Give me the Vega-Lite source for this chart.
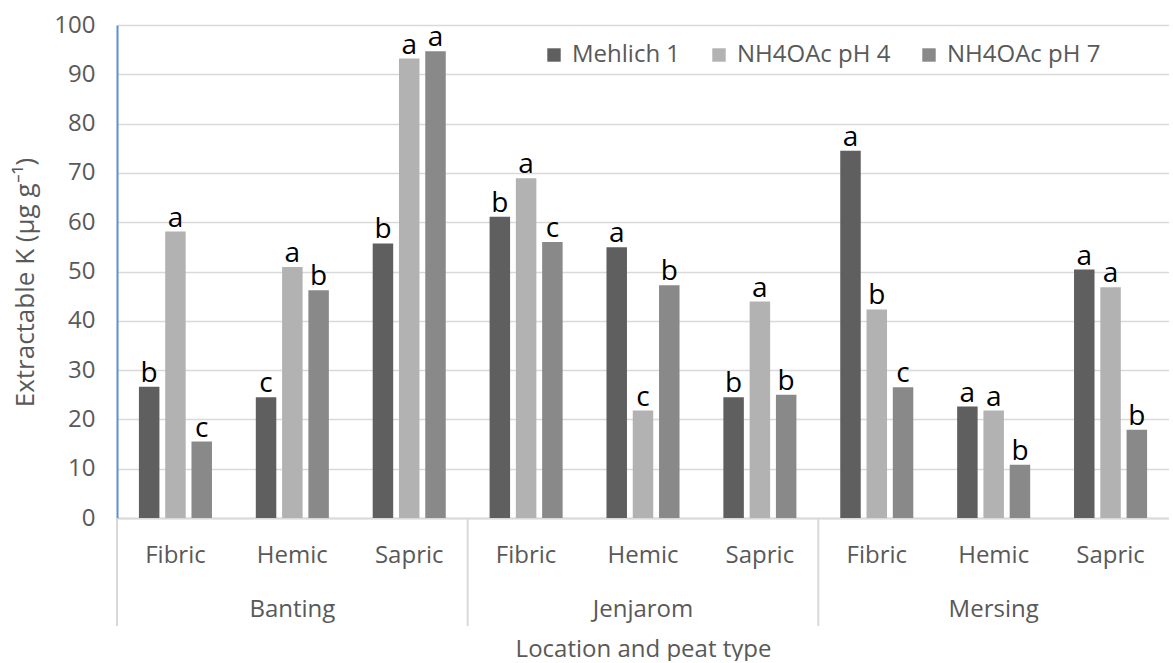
{
  "$schema": "https://vega.github.io/schema/vega-lite/v6.json",
  "background": "white",
  "padding": {"left": 12, "top": 13, "right": 0, "bottom": 0},
  "width": 1052,
  "height": 493,
  "data": {"values": [
    {"location": "Banting", "peat": "Fibric", "group": "Banting Fibric", "method": "Mehlich 1", "value": 26.6, "letter": "b"},
    {"location": "Banting", "peat": "Fibric", "group": "Banting Fibric", "method": "NH4OAc pH 4", "value": 58.1, "letter": "a"},
    {"location": "Banting", "peat": "Fibric", "group": "Banting Fibric", "method": "NH4OAc pH 7", "value": 15.5, "letter": "c"},
    {"location": "Banting", "peat": "Hemic", "group": "Banting Hemic", "method": "Mehlich 1", "value": 24.5, "letter": "c"},
    {"location": "Banting", "peat": "Hemic", "group": "Banting Hemic", "method": "NH4OAc pH 4", "value": 50.9, "letter": "a"},
    {"location": "Banting", "peat": "Hemic", "group": "Banting Hemic", "method": "NH4OAc pH 7", "value": 46.2, "letter": "b"},
    {"location": "Banting", "peat": "Sapric", "group": "Banting Sapric", "method": "Mehlich 1", "value": 55.7, "letter": "b"},
    {"location": "Banting", "peat": "Sapric", "group": "Banting Sapric", "method": "NH4OAc pH 4", "value": 93.2, "letter": "a"},
    {"location": "Banting", "peat": "Sapric", "group": "Banting Sapric", "method": "NH4OAc pH 7", "value": 94.7, "letter": "a"},
    {"location": "Jenjarom", "peat": "Fibric", "group": "Jenjarom Fibric", "method": "Mehlich 1", "value": 61.1, "letter": "b"},
    {"location": "Jenjarom", "peat": "Fibric", "group": "Jenjarom Fibric", "method": "NH4OAc pH 4", "value": 68.9, "letter": "a"},
    {"location": "Jenjarom", "peat": "Fibric", "group": "Jenjarom Fibric", "method": "NH4OAc pH 7", "value": 56.0, "letter": "c"},
    {"location": "Jenjarom", "peat": "Hemic", "group": "Jenjarom Hemic", "method": "Mehlich 1", "value": 54.9, "letter": "a"},
    {"location": "Jenjarom", "peat": "Hemic", "group": "Jenjarom Hemic", "method": "NH4OAc pH 4", "value": 21.8, "letter": "c"},
    {"location": "Jenjarom", "peat": "Hemic", "group": "Jenjarom Hemic", "method": "NH4OAc pH 7", "value": 47.2, "letter": "b"},
    {"location": "Jenjarom", "peat": "Sapric", "group": "Jenjarom Sapric", "method": "Mehlich 1", "value": 24.5, "letter": "b"},
    {"location": "Jenjarom", "peat": "Sapric", "group": "Jenjarom Sapric", "method": "NH4OAc pH 4", "value": 43.9, "letter": "a"},
    {"location": "Jenjarom", "peat": "Sapric", "group": "Jenjarom Sapric", "method": "NH4OAc pH 7", "value": 25.0, "letter": "b"},
    {"location": "Mersing", "peat": "Fibric", "group": "Mersing Fibric", "method": "Mehlich 1", "value": 74.5, "letter": "a"},
    {"location": "Mersing", "peat": "Fibric", "group": "Mersing Fibric", "method": "NH4OAc pH 4", "value": 42.3, "letter": "b"},
    {"location": "Mersing", "peat": "Fibric", "group": "Mersing Fibric", "method": "NH4OAc pH 7", "value": 26.5, "letter": "c"},
    {"location": "Mersing", "peat": "Hemic", "group": "Mersing Hemic", "method": "Mehlich 1", "value": 22.6, "letter": "a"},
    {"location": "Mersing", "peat": "Hemic", "group": "Mersing Hemic", "method": "NH4OAc pH 4", "value": 21.8, "letter": "a"},
    {"location": "Mersing", "peat": "Hemic", "group": "Mersing Hemic", "method": "NH4OAc pH 7", "value": 10.8, "letter": "b"},
    {"location": "Mersing", "peat": "Sapric", "group": "Mersing Sapric", "method": "Mehlich 1", "value": 50.4, "letter": "a"},
    {"location": "Mersing", "peat": "Sapric", "group": "Mersing Sapric", "method": "NH4OAc pH 4", "value": 46.8, "letter": "a"},
    {"location": "Mersing", "peat": "Sapric", "group": "Mersing Sapric", "method": "NH4OAc pH 7", "value": 17.9, "letter": "b"}
  ]},
  "layer": [
    {
      "mark": {"type": "bar"},
      "encoding": {
        "x": {
          "field": "group", "type": "nominal", "sort": null,
          "scale": {"paddingInner": 0, "paddingOuter": 0},
          "axis": {
            "title": "Location and peat type", "labelAngle": 0, "ticks": false,
            "labelExpr": "split(datum.label, ' ')[1]",
            "labelFont": "Open Sans", "labelFontSize": 24, "labelColor": "#595959", "labelPadding": 25,
            "titleFont": "Open Sans", "titleFontSize": 24, "titleColor": "#595959", "titleFontWeight": "normal", "titlePadding": 70,
            "domainColor": "#d9d9d9", "domainWidth": 2
          }
        },
        "xOffset": {
          "field": "method", "type": "nominal",
          "sort": ["Mehlich 1", "NH4OAc pH 4", "NH4OAc pH 7"],
          "scale": {"paddingInner": 0.22, "paddingOuter": 0.834}
        },
        "y": {
          "field": "value", "type": "quantitative",
          "scale": {"domain": [0, 100], "nice": false},
          "axis": {
            "title": "Extractable K (µg g⁻¹)", "values": [0, 10, 20, 30, 40, 50, 60, 70, 80, 90, 100],
            "ticks": false, "labelPadding": 22,
            "labelFont": "Open Sans", "labelFontSize": 24, "labelColor": "#595959",
            "titleFont": "Open Sans", "titleFontSize": 26, "titleColor": "#595959", "titleFontWeight": "normal", "titlePadding": 15,
            "titleY": 257,
            "domainColor": "#5b8fd0", "domainWidth": 2,
            "gridColor": "#d9d9d9", "gridWidth": 1.5
          }
        },
        "color": {
          "field": "method", "type": "nominal",
          "scale": {"domain": ["Mehlich 1", "NH4OAc pH 4", "NH4OAc pH 7"], "range": ["#5f5f5f", "#b2b2b2", "#898989"]},
          "legend": {
            "title": null, "orient": "none", "direction": "horizontal",
            "legendX": 425, "legendY": 18,
            "symbolType": "square", "symbolSize": 180, "symbolStrokeWidth": 0,
            "labelFont": "Open Sans", "labelFontSize": 24, "labelColor": "#595959", "labelOffset": 6,
            "columnPadding": 26
          }
        }
      }
    },
    {
      "mark": {"type": "text", "baseline": "alphabetic", "dy": -5, "font": "Open Sans", "fontSize": 28, "color": "black"},
      "encoding": {
        "x": {"field": "group", "type": "nominal", "sort": null},
        "xOffset": {"field": "method", "type": "nominal", "sort": ["Mehlich 1", "NH4OAc pH 4", "NH4OAc pH 7"]},
        "y": {"field": "value", "type": "quantitative"},
        "text": {"field": "letter"}
      }
    },
    {
      "transform": [{"filter": "datum.peat === 'Hemic' && datum.method === 'Mehlich 1'"}],
      "mark": {"type": "text", "baseline": "alphabetic", "font": "Open Sans", "fontSize": 24, "color": "#595959"},
      "encoding": {
        "x": {"field": "group", "type": "nominal", "sort": null},
        "y": {"datum": -20.1},
        "text": {"field": "location"}
      }
    },
    {
      "transform": [{"filter": "datum.peat === 'Fibric' && datum.method === 'Mehlich 1'"}],
      "mark": {"type": "rule", "color": "#d9d9d9", "strokeWidth": 2},
      "encoding": {
        "x": {"field": "group", "type": "nominal", "sort": null, "bandPosition": 0},
        "y": {"datum": 0},
        "y2": {"datum": -21.9}
      }
    }
  ],
  "config": {"view": {"stroke": null}}
}
